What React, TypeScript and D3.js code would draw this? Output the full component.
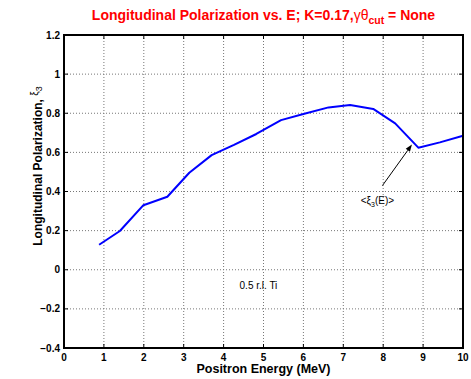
import React from "react";
import * as d3 from "d3";

const energy = [0.88, 1.40, 1.99, 2.59, 3.14, 3.70, 4.26, 4.82, 5.44, 6.0, 6.63, 7.17, 7.75, 8.30, 8.88, 9.42, 10.0];
const polarization = [0.128, 0.198, 0.33, 0.373, 0.496, 0.586, 0.638, 0.694, 0.765, 0.796, 0.830, 0.842, 0.822, 0.748, 0.624, 0.651, 0.685];
const xTicks = [0, 1, 2, 3, 4, 5, 6, 7, 8, 9, 10];
const yTicks = [-0.4, -0.2, 0, 0.2, 0.4, 0.6, 0.8, 1, 1.2];
const arrowFrom = [7.98, 0.43];
const arrowTo = [8.72, 0.64];
const noteText = "0.5 r.l. Ti";
const notePos = [4.4, 0.0];

const W = 471, H = 379;
const L = 64, R = 463, T = 35, B = 348;
const FONT = "'Liberation Sans', Arial, Helvetica, sans-serif";

function fmt(v: number) {
  const s = d3.format("")(Math.round(v * 10) / 10);
  return s.replace("-", "\u2212");
}

export default function App() {
  const x = d3.scaleLinear().domain([0, 10]).range([L, R]);
  const y = d3.scaleLinear().domain([-0.4, 1.2]).range([B, T]);
  const line = d3.line<number>().x((_, i) => x(energy[i])).y((d) => y(d));
  const path = line(polarization) || "";

  const ax1 = x(arrowFrom[0]), ay1 = y(arrowFrom[1]);
  const ax2 = x(arrowTo[0]), ay2 = y(arrowTo[1]);
  const ang = Math.atan2(ay2 - ay1, ax2 - ax1);
  const hl = 7, hw = 2.6;
  const bx = ax2 - hl * Math.cos(ang), by = ay2 - hl * Math.sin(ang);
  const head = `M${ax2},${ay2} L${bx + hw * Math.sin(ang)},${by - hw * Math.cos(ang)} L${bx - hw * Math.sin(ang)},${by + hw * Math.cos(ang)} Z`;

  return (
    <svg width={W} height={H} style={{ position: "absolute", left: 0, top: 0, background: "#fff" }} fontFamily={FONT}>
      <rect x={0} y={0} width={W} height={H} fill="#fff" />
      {xTicks.slice(1, -1).map((t) => (
        <line key={"gx" + t} x1={x(t)} x2={x(t)} y1={T} y2={B} stroke="#777" strokeWidth={1} strokeDasharray="1,2" />
      ))}
      {yTicks.slice(1, -1).map((t) => (
        <line key={"gy" + t} x1={L} x2={R} y1={y(t)} y2={y(t)} stroke="#777" strokeWidth={1} strokeDasharray="1,2" />
      ))}
      {xTicks.map((t) => (
        <g key={"tx" + t}>
          <line x1={x(t)} x2={x(t)} y1={B} y2={B - 4} stroke="#000" />
          <line x1={x(t)} x2={x(t)} y1={T} y2={T + 4} stroke="#000" />
          <text x={x(t)} y={361} textAnchor="middle" fontSize={10} fontWeight="bold">{fmt(t)}</text>
        </g>
      ))}
      {yTicks.map((t) => (
        <g key={"ty" + t}>
          <line x1={L} x2={L + 4} y1={y(t)} y2={y(t)} stroke="#000" />
          <line x1={R} x2={R - 4} y1={y(t)} y2={y(t)} stroke="#000" />
          <text x={L - 4} y={y(t) + 3.5} textAnchor="end" fontSize={10} fontWeight="bold">{fmt(t)}</text>
        </g>
      ))}
      <path d={path} fill="none" stroke="#0000ff" strokeWidth={2} strokeLinejoin="round" />
      <rect x={L} y={T} width={R - L} height={B - T} fill="none" stroke="#000" strokeWidth={2} />
      <line x1={ax1} y1={ay1} x2={bx} y2={by} stroke="#000" strokeWidth={1} />
      <path d={head} fill="#000" />
      <text x={ax1 - 5} y={ay1 + 18} textAnchor="middle" fontSize={10}>
        {"<\u03be"}<tspan fontSize={7} dy={3}>3</tspan><tspan dy={-3}>{"(E)>"}</tspan>
      </text>
      <text x={x(notePos[0])} y={y(notePos[1]) + 19} fontSize={10}>{noteText}</text>
      <text x={(L + R) / 2} y={20} textAnchor="middle" fontSize={14} fontWeight="bold" fill="#ff0000">
        {"Longitudinal Polarization vs. E; K=0.17,"}
        <tspan fontWeight="normal">{"\u03b3\u03b8"}</tspan>
        <tspan fontSize={10.5} dy={4}>cut</tspan>
        <tspan dy={-4}>{" = None"}</tspan>
      </text>
      <text x={(L + R) / 2} y={373} textAnchor="middle" fontSize={12.5} fontWeight="bold">Positron Energy (MeV)</text>
      <text transform={`translate(42,${166}) rotate(-90)`} textAnchor="middle" fontSize={12} fontWeight="bold">
        {"Longitudinal Polarization, "}
        <tspan fontWeight="normal" fontSize={10} dy={-4}>{"\u03be"}</tspan>
        <tspan fontWeight="normal" fontSize={9} dy={4}>3</tspan>
      </text>
    </svg>
  );
}
